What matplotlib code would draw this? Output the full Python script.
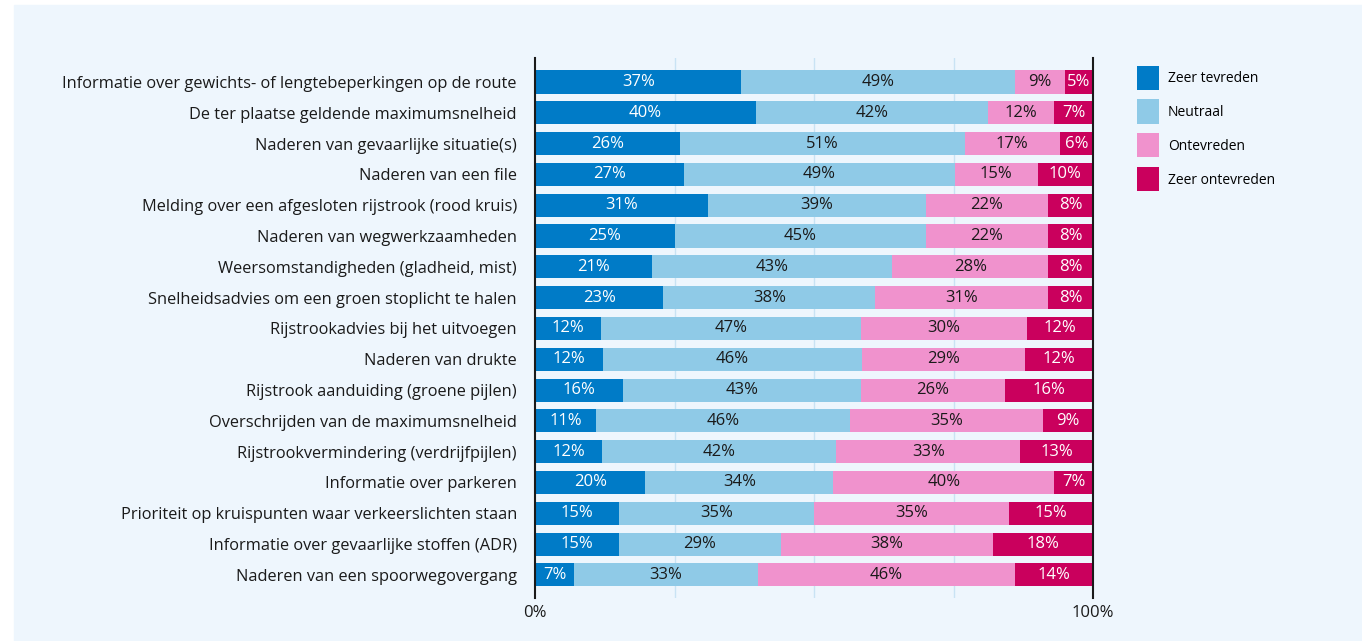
import matplotlib.pyplot as plt
import numpy as np

plt.rcParams['font.family'] = ['Open Sans', 'DejaVu Sans']

categories = [
    'Informatie over gewichts- of lengtebeperkingen op de route',
    'De ter plaatse geldende maximumsnelheid',
    'Naderen van gevaarlijke situatie(s)',
    'Naderen van een file',
    'Melding over een afgesloten rijstrook (rood kruis)',
    'Naderen van wegwerkzaamheden',
    'Weersomstandigheden (gladheid, mist)',
    'Snelheidsadvies om een groen stoplicht te halen',
    'Rijstrookadvies bij het uitvoegen',
    'Naderen van drukte',
    'Rijstrook aanduiding (groene pijlen)',
    'Overschrijden van de maximumsnelheid',
    'Rijstrookvermindering (verdrijfpijlen)',
    'Informatie over parkeren',
    'Prioriteit op kruispunten waar verkeerslichten staan',
    'Informatie over gevaarlijke stoffen (ADR)',
    'Naderen van een spoorwegovergang',
]
zeer_tevreden = [37, 40, 26, 27, 31, 25, 21, 23, 12, 12, 16, 11, 12, 20, 15, 15, 7]
neutraal = [49, 42, 51, 49, 39, 45, 43, 38, 47, 46, 43, 46, 42, 34, 35, 29, 33]
ontevreden = [9, 12, 17, 15, 22, 22, 28, 31, 30, 29, 26, 35, 33, 40, 35, 38, 46]
zeer_ontevreden = [5, 7, 6, 10, 8, 8, 8, 8, 12, 12, 16, 9, 13, 7, 15, 18, 14]

series = [zeer_tevreden, neutraal, ontevreden, zeer_ontevreden]
names = ['Zeer tevreden', 'Neutraal', 'Ontevreden', 'Zeer ontevreden']
colors = ['#007bc7', '#8fcae7', '#f092cd', '#ca005d']
text_colors = ['white', '#1a1a1a', '#1a1a1a', 'white']

bg = '#eef6fd'
fig = plt.figure(figsize=(13.62, 6.41), dpi=100)
fig.patch.set_facecolor('white')
fig.patches.append(plt.Rectangle((14 / 1362, 0), 1 - 14 / 1362, 1 - 5 / 641,
                                 transform=fig.transFigure, color=bg, zorder=-1))

ax = fig.add_axes([535 / 1362, 1 - 598 / 641, (1093 - 535) / 1362, (598 - 58) / 641])
ax.set_facecolor('none')

vals = np.array(series, dtype=float)
shares = vals / vals.sum(axis=0) * 100  # stretch each row to 100%
y = np.arange(len(categories))
left = np.zeros(len(categories))
for i in range(4):
    ax.barh(y, shares[i], left=left, height=0.75, color=colors[i], label=names[i], zorder=2)
    for j in range(len(categories)):
        ax.text(left[j] + shares[i][j] / 2, y[j], f'{series[i][j]}%', ha='center', va='center',
                color=text_colors[i], fontsize=12, zorder=3)
    left += shares[i]

ax.set_xlim(0, 100)
ax.set_ylim(16.75, -0.78)
for x in [25, 50, 75]:
    ax.axvline(x, color='#c9e3f4', lw=1, zorder=1)
ax.set_yticks(y)
ax.set_yticklabels(categories, fontsize=11.8, color='#1a1a1a')
ax.tick_params(axis='y', length=0, pad=13)
ax.set_xticks([0, 100])
ax.set_xticklabels(['0%', '100%'], fontsize=12, color='#1a1a1a')
ax.tick_params(axis='x', length=0, pad=5)
for s in ['top', 'bottom']:
    ax.spines[s].set_visible(False)
for s in ['left', 'right']:
    ax.spines[s].set_color('#1a1a1a')
    ax.spines[s].set_linewidth(1.5)
    ax.spines[s].set_zorder(4)

handles, labels = ax.get_legend_handles_labels()
fig.legend(handles, labels, loc='upper left', bbox_to_anchor=(1124 / 1362, 1 - 53 / 641),
           frameon=False, fontsize=10, handlelength=1.65, handleheight=2.3,
           labelspacing=0.7, handletextpad=0.6)

fig.savefig('out.png', dpi=100, facecolor=fig.get_facecolor())
